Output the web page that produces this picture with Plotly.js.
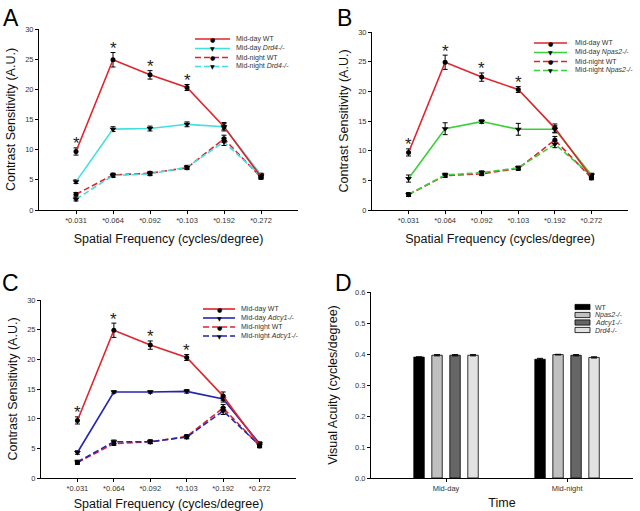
<!DOCTYPE html>
<html><head><meta charset="utf-8">
<script src="https://cdn.plot.ly/plotly-3.0.1.min.js"></script>
<style>html,body{margin:0;padding:0;background:#fff}#chart{width:640px;height:511px}</style>
</head><body><div id="chart"></div>
<script>
// ---------- data ----------
const freqLabels = ['*0.031', '*0.064', '*0.092', '*0.103', '*0.192', '*0.272'];
const significant = [true, true, true, true, false, false];

const wtDay = [9.7, 24.9, 22.4, 20.3, 13.8, 5.5];
const wtDayErr = [0.6, 1.2, 0.7, 0.5, 0.7, 0.3];
const wtNight = [2.6, 5.8, 6.1, 7.0, 11.8, 5.4];
const wtNightErr = [0.3, 0.3, 0.3, 0.3, 0.6, 0.3];

const drd4Day = [4.7, 13.4, 13.5, 14.2, 13.8, 5.8];
const drd4DayErr = [0.3, 0.4, 0.4, 0.4, 0.5, 0.3];
const drd4Night = [1.8, 5.7, 6.0, 7.1, 11.3, 5.6];
const drd4NightErr = [0.3, 0.3, 0.3, 0.3, 0.6, 0.3];

const npas2Day = [5.3, 13.7, 14.9, 13.6, 13.6, 5.9];
const npas2DayErr = [0.6, 1.0, 0.3, 1.0, 0.6, 0.3];
const npas2Night = [2.6, 5.9, 6.3, 7.1, 11.1, 5.8];
const npas2NightErr = [0.3, 0.3, 0.3, 0.3, 0.6, 0.3];

const adcy1Day = [4.3, 14.5, 14.5, 14.6, 13.3, 5.8];
const adcy1DayErr = [0.3, 0.2, 0.2, 0.3, 0.5, 0.3];
const adcy1Night = [2.7, 6.1, 6.1, 6.9, 11.3, 5.5];
const adcy1NightErr = [0.3, 0.3, 0.3, 0.3, 0.6, 0.3];

const timeLabels = ['Mid-day', 'Mid-night'];
const acuityWT = [0.390, 0.383];
const acuityWTErr = [0.001, 0.003];
const acuityNpas2 = [0.396, 0.398];
const acuityNpas2Err = [0.002, 0.001];
const acuityAdcy1 = [0.396, 0.396];
const acuityAdcy1Err = [0.002, 0.002];
const acuityDrd4 = [0.396, 0.389];
const acuityDrd4Err = [0.002, 0.002];

// ---------- styling ----------
const RED = '#e0232c', CYAN = '#40e0e0', GREEN = '#3ccf3c', BLUE = '#2424b0';
const W = 640, H = 511;
const px = x => x / W, py = y => 1 - y / H;
const FONT = 'Liberation Sans, Arial, sans-serif';

function lineTrace(y, err, color, dashed, symbol, ax) {
  return {
    type: 'scatter', mode: 'lines+markers', x: freqLabels, y: y,
    xaxis: 'x' + ax, yaxis: 'y' + ax, showlegend: false,
    line: {color: color, width: 1.6, dash: dashed ? '6px,3px' : 'solid'},
    marker: {color: 'black', size: symbol === 'circle' ? 5 : 6, symbol: symbol},
    error_y: {type: 'data', array: err, visible: true, color: 'black', thickness: 1, width: 2.5}
  };
}

const panels = [
  {ax: '', ko: [drd4Day, drd4DayErr, drd4Night, drd4NightErr], color: CYAN, name: 'Drd4-/-'},
  {ax: '2', ko: [npas2Day, npas2DayErr, npas2Night, npas2NightErr], color: GREEN, name: 'Npas2-/-'},
  {ax: '3', ko: [adcy1Day, adcy1DayErr, adcy1Night, adcy1NightErr], color: BLUE, name: 'Adcy1-/-'}
];

const traces = [];
const annotations = [];
const shapes = [];
panels.forEach(p => {
  traces.push(lineTrace(wtNight, wtNightErr, RED, true, 'circle', p.ax));
  traces.push(lineTrace(p.ko[2], p.ko[3], p.color, true, 'triangle-down', p.ax));
  traces.push(lineTrace(p.ko[0], p.ko[1], p.color, false, 'triangle-down', p.ax));
  traces.push(lineTrace(wtDay, wtDayErr, RED, false, 'circle', p.ax));
  freqLabels.forEach((f, i) => {
    if (significant[i]) annotations.push({
      x: f, y: wtDay[i] + wtDayErr[i], xref: 'x' + p.ax, yref: 'y' + p.ax,
      text: '*', showarrow: false, yanchor: 'middle', yshift: 4,
      font: {family: FONT, size: 17, color: '#222'}
    });
  });
});

// bars (panel D)
const barSpecs = [
  ['WT', acuityWT, acuityWTErr, '#000000'],
  ['<i>Npas2-/-</i>', acuityNpas2, acuityNpas2Err, '#c0c0c0'],
  ['<i>Adcy1-/-</i>', acuityAdcy1, acuityAdcy1Err, '#666666'],
  ['<i>Drd4-/-</i>', acuityDrd4, acuityDrd4Err, '#e2e2e2']
];
barSpecs.forEach(b => traces.push({
  type: 'bar', x: timeLabels, y: b[1], name: b[0], xaxis: 'x4', yaxis: 'y4', showlegend: false,
  marker: {color: b[3], line: {color: '#000', width: 0.8}},
  error_y: {type: 'data', array: b[2], visible: true, color: 'black', thickness: 1, width: 3}
}));

// ---------- manual legends ----------
const legFont = {family: FONT, size: 7, color: '#333'};
function lineLegend(x0, x1, xt, ys, color, name) {
  const rows = [
    ['Mid-day WT', RED, false, '●'],
    ['Mid-day <i>' + name + '</i>', color, false, '▼'],
    ['Mid-night WT', RED, true, '●'],
    ['Mid-night <i>' + name + '</i>', color, true, '▼']
  ];
  rows.forEach((r, i) => {
    shapes.push({type: 'line', xref: 'paper', yref: 'paper', x0: px(x0), x1: px(x1), y0: py(ys[i]), y1: py(ys[i]),
      line: {color: r[1], width: 1.6, dash: r[2] ? '6px,3px' : 'solid'}});
    annotations.push({xref: 'paper', yref: 'paper', x: px((x0 + x1) / 2), y: py(ys[i]), text: r[3], showarrow: false,
      xanchor: 'center', yanchor: 'middle', borderpad: 0, font: {family: 'DejaVu Sans', size: 6, color: '#000'}});
    annotations.push({xref: 'paper', yref: 'paper', x: px(xt), y: py(ys[i]), text: r[0], showarrow: false,
      xanchor: 'left', yanchor: 'middle', borderpad: 0, font: legFont});
  });
}
lineLegend(195, 230, 235, [39, 48.5, 57.5, 66.5], CYAN, 'Drd4-/-');
lineLegend(534, 567, 574, [43, 52.5, 61.5, 70.5], GREEN, 'Npas2-/-');
lineLegend(203, 235, 240, [309, 318, 327, 336], BLUE, 'Adcy1-/-');
[307, 315, 322.5, 330].forEach((y, i) => {
  shapes.push({type: 'rect', xref: 'paper', yref: 'paper', x0: px(575), x1: px(590), y0: py(y + 2.6), y1: py(y - 2.6),
    fillcolor: barSpecs[i][3], line: {color: '#000', width: 0.8}});
  annotations.push({xref: 'paper', yref: 'paper', x: px(594), y: py(y), text: barSpecs[i][0], showarrow: false,
    xanchor: 'left', yanchor: 'middle', borderpad: 0, font: legFont});
});

// panel letters
[['A', 1, 3], ['B', 335, 3], ['C', 0, 268], ['D', 333, 268]].forEach(l => annotations.push({
  xref: 'paper', yref: 'paper', x: px(l[1]), y: py(l[2]), text: l[0], showarrow: false,
  xanchor: 'left', yanchor: 'top', font: {family: FONT, size: 23, color: '#000'}
}));

// ---------- axes ----------
const tickFont = {family: FONT, size: 7.5, color: '#333'};
const titleFont = {family: FONT, size: 12.5, color: '#111'};
function xAx(domain, title) {
  return {domain: domain, type: 'category', range: [-1, 6], showline: true, linecolor: '#000', linewidth: 1,
    ticks: 'outside', ticklen: 3, tickcolor: '#000', showgrid: false, zeroline: false, tickfont: tickFont,
    title: {text: title, font: titleFont, standoff: 10}, fixedrange: true};
}
function yAx(domain, title, range, dtick, fmt, anchor, standoff) {
  return {domain: domain, range: range, dtick: dtick, tickformat: fmt, showline: true, linecolor: '#000', linewidth: 1,
    ticks: 'outside', ticklen: 3, tickcolor: '#000', showgrid: false, zeroline: false, tickfont: tickFont,
    title: {text: title, font: titleFont, standoff: standoff}, anchor: anchor, fixedrange: true};
}
const csTitle = 'Contrast Sensitivity (A.U.)';
const sfTitle = 'Spatial Frequency (cycles/degree)';

const layout = {
  width: W, height: H, margin: {l: 0, r: 0, t: 0, b: 0}, paper_bgcolor: '#fff', plot_bgcolor: '#fff',
  showlegend: false, barmode: 'group', bargap: 0.405, bargroupgap: 0.42,
  font: {family: FONT},
  xaxis: Object.assign(xAx([px(39), px(298)], sfTitle), {anchor: 'y'}),
  yaxis: yAx([py(210), py(29)], csTitle, [0, 30], 5, '', 'x', 6),
  xaxis2: Object.assign(xAx([px(372), px(628)], sfTitle), {anchor: 'y2'}),
  yaxis2: yAx([py(210), py(32)], csTitle, [0, 30], 5, '', 'x2', 6),
  xaxis3: Object.assign(xAx([px(41), px(296)], sfTitle), {anchor: 'y3'}),
  yaxis3: yAx([py(478), py(300)], csTitle, [0, 30], 5, '', 'x3', 6),
  xaxis4: {domain: [px(371), px(633)], anchor: 'y4', type: 'category', range: [-0.62, 1.545], showline: true,
    linecolor: '#000', linewidth: 1, ticks: 'outside', ticklen: 3, tickcolor: '#000', showgrid: false,
    tickfont: tickFont, title: {text: 'Time', font: titleFont, standoff: 6}, fixedrange: true},
  yaxis4: yAx([py(478), py(292)], 'Visual Acuity (cycles/degree)', [0, 0.6], 0.1, '.1f', 'x4', 14),
  annotations: annotations, shapes: shapes
};

Plotly.newPlot('chart', traces, layout, {staticPlot: true});
</script>
</body></html>
